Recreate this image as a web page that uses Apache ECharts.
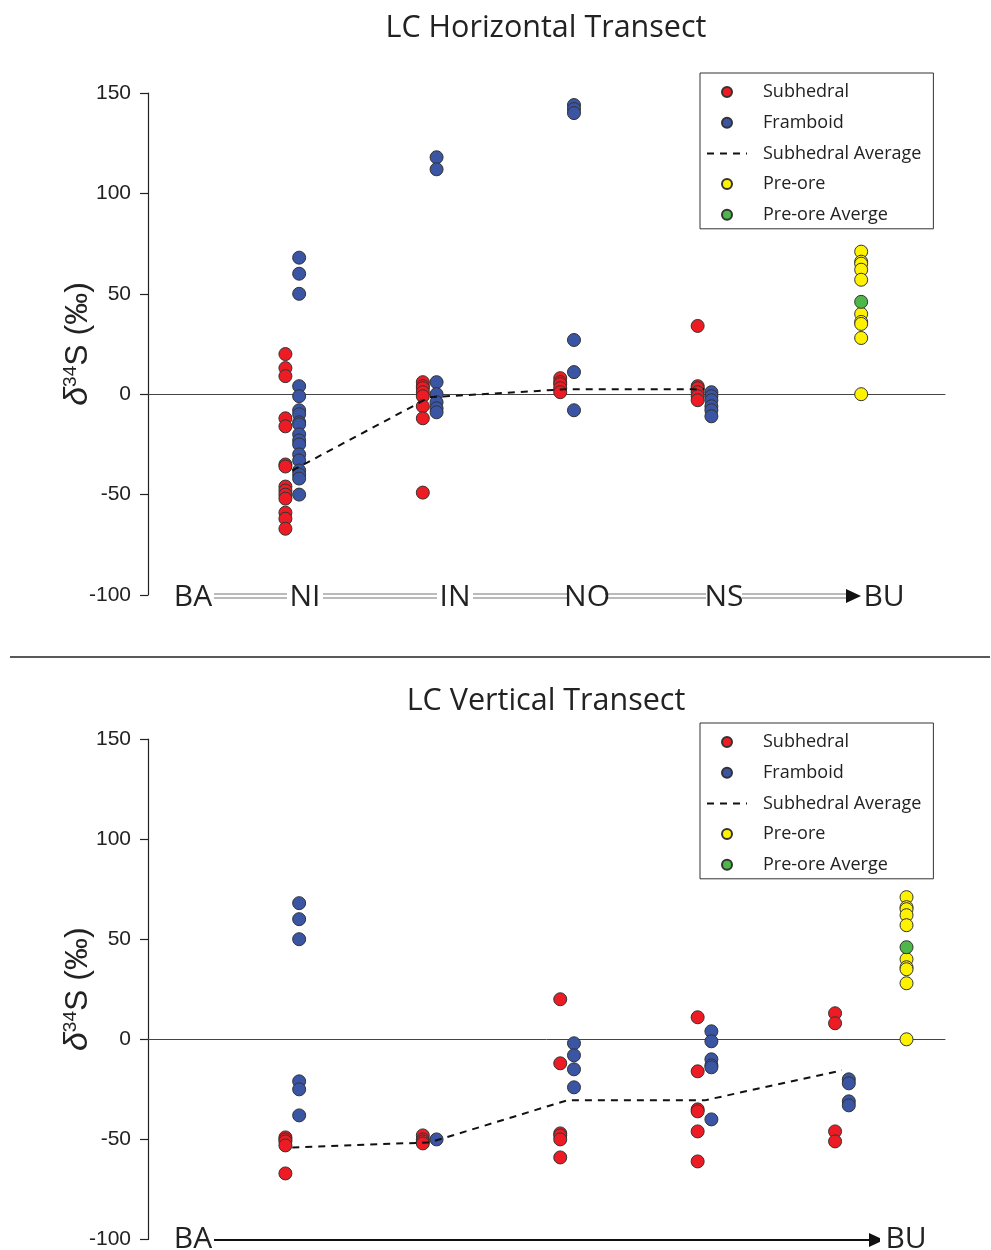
<!DOCTYPE html>
<html><head><meta charset="utf-8">
<script src="https://cdn.jsdelivr.net/npm/echarts@6/dist/echarts.min.js"></script>
<style>html,body{margin:0;padding:0;background:#fff}#c{width:991px;height:1250px}</style>
</head><body><div id="c"></div>
<script>
// ---------- DATA ----------
const horizSites = ['NI','IN','NO','NS'];
const horizAxisLabels = ['BA','NI','IN','NO','NS','BU'];
const vertAxisLabels = ['BA','BU'];
const yTicks = [-100,-50,0,50,100,150];

const hSubhedral = [
  [20,13,9,-12,-16,-35,-36,-46,-48,-50,-52,-59,-62,-67],
  [6,4,3,1,-1,-6,-12,-49],
  [8,6,5,3,1],
  [34,4,3,1,-1,-3]
];
const hFramboid = [
  [68,60,50,4,-1,-8,-10,-14,-15,-20,-23,-25,-30,-33,-38,-40,-42,-50],
  [118,112,6,0,-4,-7,-9],
  [144,142,140,27,11,-8],
  [1,-1,-3,-6,-8,-11]
];
const hSubAvg = [-38,-1.5,2.5,2.5];

const vSubhedral = [
  [-49,-50,-51,-53,-67],
  [-48,-50,-51,-52],
  [20,-12,-47,-48,-50,-59],
  [11,-16,-35,-36,-46,-61],
  [13,8,-46,-51]
];
const vFramboid = [
  [68,60,50,-21,-25,-38],
  [-50],
  [-2,-8,-15,-24],
  [4,-1,-10,-13,-14,-40],
  [-20,-22,-31,-33]
];
const vSubAvg = [-54,-51.5,-30.5,-30.5,-15.5];

const preOre = [71,66,65,62,57,40,36,35,28,0];
const preOreAvg = [46];

const legendNames = ['Subhedral','Framboid','Subhedral Average','Pre-ore','Pre-ore Averge'];

// ---------- LAYOUT / STYLE ----------
const RED='#ED1C24', BLUE='#3A55A4', YEL='#FFF200', GRN='#4DB748';
const FRAMB_OFF = 0.1, AVG_OFF = 0.05;
const PRE_X = [5.19, 5.52];

function pts(groups, off){ const out=[]; groups.forEach((g,i)=>g.forEach(v=>out.push([i+1+off, v]))); return out; }
function avgPts(arr){ return arr.map((v,i)=>[i+1+AVG_OFF, v]); }
function flat(arr, x){ return arr.map(v=>[x, v]); }

const chart = echarts.init(document.getElementById('c'));
const font = 'Liberation Sans, Arial, sans-serif';
const cal = 'Open Sans, sans-serif';

function yAx(gi){
  return {
    type:'value', gridIndex:gi, min:-100, max:150, interval:50,
    axisLine:{show:true, onZero:false, lineStyle:{color:'#222', width:1.2}},
    axisTick:{show:true, length:8, lineStyle:{color:'#222', width:1.2}},
    splitLine:{show:false},
    axisLabel:{fontSize:21, color:'#222', fontFamily:font, margin:17,
      formatter:v=> yTicks.includes(v)? String(v):''},
    name:'{d|δ}{s|34}{a|S (‰)}', nameLocation:'middle', nameGap:53, nameRotate:90,
    nameMoveOverlap:false,
    nameTextStyle:{rich:{
      d:{fontSize:34, fontStyle:'italic', fontFamily:font, color:'#222'},
      s:{fontSize:19, fontFamily:font, color:'#222', verticalAlign:'top', padding:[0,0,13,0]},
      a:{fontSize:32, fontFamily:font, color:'#222'}
    }}
  };
}
function xAx(gi){
  return {type:'value', gridIndex:gi, min:0, max:5.8,
    axisLine:{show:true, onZero:true, lineStyle:{color:'#444', width:1}},
    axisTick:{show:false}, axisLabel:{show:false}, splitLine:{show:false}};
}
function scatter(name, data, color, xi){
  return {name, type:'scatter', xAxisIndex:xi, yAxisIndex:xi, data, symbolSize:13,
    itemStyle:{color, borderColor:'#333', borderWidth:1, opacity:1}, z:3};
}
function line(data, xi){
  return {name:'Subhedral Average', type:'line', xAxisIndex:xi, yAxisIndex:xi, data,
    showSymbol:false, symbol:'none', itemStyle:{color:'#111', opacity:0},
    lineStyle:{color:'#111', width:2, type:[7,6]}, z:4};
}
function legend(top){
  return {orient:'vertical', left:700, top, padding:[9,12,4,6], itemGap:10.7,
    itemWidth:40, itemHeight:10, borderColor:'#333', borderWidth:1, backgroundColor:'#fff',
    selectedMode:false, data:legendNames.map(n=>({name:n})),
    textStyle:{fontSize:18, fontFamily:cal, color:'#222', lineHeight:20, padding:[0,0,0,11]}};
}

const sq = (x1,y1,x2,y2,c,w)=>({type:'line', shape:{x1,y1,x2,y2}, style:{stroke:c, lineWidth:w}, silent:true});
const txt = (x,y,t,size)=>({type:'text', x, y, style:{text:t, fontSize:size, fontFamily:cal, fill:'#222', align:'center', verticalAlign:'middle'}, z:10});

const hLabX = [193,305,455,587,724,884];
const graphics = [
  txt(546,28,'LC Horizontal Transect',30.5),
  txt(546,701,'LC Vertical Transect',30.5),
  sq(10,657,990,657,'#222',1.5),
  sq(214,594,848,594,'#777',1), sq(214,598,848,598,'#777',1),
  {type:'polygon', shape:{points:[[846,589],[861,596],[846,603]]}, style:{fill:'#111'}, silent:true},
  sq(214,1240,872,1240,'#111',1.8),
  {type:'polygon', shape:{points:[[869,1233],[884,1240],[869,1247]]}, style:{fill:'#111'}, silent:true},
];
horizAxisLabels.forEach((l,i)=>{
  graphics.push({type:'rect', shape:{x:hLabX[i]-(i===0?0:18), y:584, width:(i===0?20:36), height:24}, style:{fill:'#fff'}, z:9, silent:true});
  graphics.push(txt(hLabX[i],597,l,30));
});
graphics.push({type:'rect', shape:{x:880,y:1226,width:50,height:28}, style:{fill:'#fff'}, z:9});
graphics.push(txt(193,1239,vertAxisLabels[0],30));
graphics.push(txt(906,1239,vertAxisLabels[1],30));

chart.setOption({
  animation:false,
  backgroundColor:'#fff',
  grid:[{left:148, top:93, width:797, height:502},{left:148, top:739, width:797, height:502}],
  xAxis:[xAx(0), xAx(1)],
  yAxis:[yAx(0), yAx(1)],
  legend:[legend(73), legend(723)],
  series:[
    line(avgPts(hSubAvg),0),
    scatter('Subhedral', pts(hSubhedral,0), RED, 0),
    scatter('Framboid', pts(hFramboid,FRAMB_OFF), BLUE, 0),
    scatter('Pre-ore', flat(preOre, PRE_X[0]), YEL, 0),
    scatter('Pre-ore Averge', flat(preOreAvg, PRE_X[0]), GRN, 0),
    line(avgPts(vSubAvg),1),
    scatter('Subhedral', pts(vSubhedral,0), RED, 1),
    scatter('Framboid', pts(vFramboid,FRAMB_OFF), BLUE, 1),
    scatter('Pre-ore', flat(preOre, PRE_X[1]), YEL, 1),
    scatter('Pre-ore Averge', flat(preOreAvg, PRE_X[1]), GRN, 1)
  ],
  graphic:graphics
});
</script></body></html>
